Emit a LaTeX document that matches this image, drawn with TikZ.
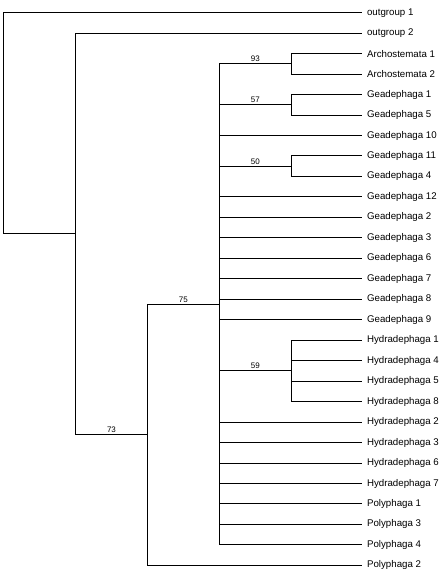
\documentclass[tikz,border=0pt]{standalone}
\usepackage{fontspec}
\setmainfont{Liberation Sans}
\usetikzlibrary{calc,positioning}

\begin{document}
\begin{tikzpicture}[x=1pt,y=-1pt,line width=1pt,
  taxon/.style={anchor=west,inner ysep=0pt,inner xsep=4.6pt,font=\fontsize{9.7}{11}\selectfont},
  support/.style={anchor=south,inner sep=1.4pt,font=\fontsize{8}{9.6}\selectfont}]
\useasboundingbox (0,0) rectangle (447,574);
% leaves, top to bottom
\foreach \txt [count=\i from 0] in {outgroup 1,outgroup 2,Archostemata 1,Archostemata 2,
  Geadephaga 1,Geadephaga 5,Geadephaga 10,Geadephaga 11,Geadephaga 4,Geadephaga 12,
  Geadephaga 2,Geadephaga 3,Geadephaga 6,Geadephaga 7,Geadephaga 8,Geadephaga 9,
  Hydradephaga 1,Hydradephaga 4,Hydradephaga 5,Hydradephaga 8,Hydradephaga 2,
  Hydradephaga 3,Hydradephaga 6,Hydradephaga 7,Polyphaga 1,Polyphaga 3,Polyphaga 4,Polyphaga 2}
  \node[taxon] (t\i) at (362,12.7+20.47*\i) {\txt};
% inner nodes
\coordinate (root) at (3.3,123);
\coordinate (n1) at (75.7,233.6);
\coordinate (n73) at (147.3,434.9);
\coordinate (n75) at (219.3,304.4);
\coordinate (arch) at (291.3,63.9);
\coordinate (gea15) at (291.3,104.8);
\coordinate (gea114) at (291.3,166.2);
\coordinate (hyd) at (291.3,370.9);
% branches
\draw (root) |- (t0.west);
\draw (root) |- (n1);
\draw (n1) |- (t1.west);
\draw (n1) |- (n73);
\draw (n73) |- (n75);
\draw (n73) |- (t27.west);
\draw (n75) |- (arch);
\draw (n75) |- (gea15);
\draw (n75) |- (gea114);
\draw (n75) |- (hyd);
\foreach \i in {6,9,10,11,12,13,14,15,20,21,22,23,24,25,26}
  \draw (n75) |- (t\i.west);
\draw (arch) |- (t2.west);
\draw (arch) |- (t3.west);
\draw (gea15) |- (t4.west);
\draw (gea15) |- (t5.west);
\draw (gea114) |- (t7.west);
\draw (gea114) |- (t8.west);
\foreach \i in {16,17,18,19}
  \draw (hyd) |- (t\i.west);
% bootstrap values
\node[support] (s93) at ($(n75 |- arch)!0.5!(arch)$) {93};
\node[support] (s57) at ($(n75 |- gea15)!0.5!(gea15)$) {57};
\node[support] (s50) at ($(n75 |- gea114)!0.5!(gea114)$) {50};
\node[support] (s59) at ($(n75 |- hyd)!0.5!(hyd)$) {59};
\node[support] (s75) at ($(n73 |- n75)!0.5!(n75)$) {75};
\node[support] (s73) at ($(n1 |- n73)!0.5!(n73)$) {73};
\end{tikzpicture}
\end{document}
